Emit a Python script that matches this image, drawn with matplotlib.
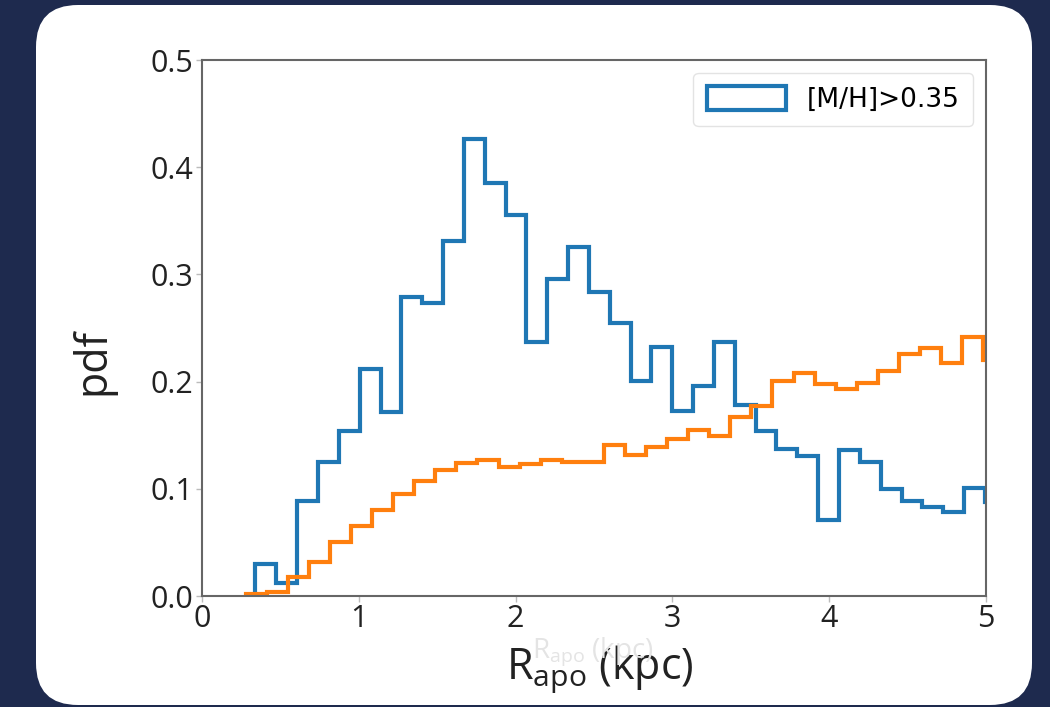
import numpy as np
import matplotlib
matplotlib.use("Agg")
import matplotlib.pyplot as plt
from matplotlib.patches import FancyBboxPatch

# bin layout (kpc)
blue_start, blue_width = 0.341, 0.1329
orange_start, orange_width = 0.278, 0.1344

blue_vals = [0.030, 0.012, 0.089, 0.125, 0.154, 0.212, 0.172, 0.279, 0.273, 0.331,
             0.426, 0.385, 0.355, 0.237, 0.296, 0.326, 0.284, 0.255, 0.201, 0.232,
             0.173, 0.196, 0.237, 0.178, 0.154, 0.137, 0.131, 0.071, 0.136, 0.125,
             0.100, 0.089, 0.083, 0.078, 0.101, 0.088]
orange_vals = [0.002, 0.004, 0.018, 0.032, 0.050, 0.065, 0.080, 0.095, 0.107, 0.118,
               0.124, 0.127, 0.120, 0.123, 0.127, 0.125, 0.125, 0.141, 0.132, 0.139,
               0.146, 0.155, 0.149, 0.167, 0.177, 0.201, 0.208, 0.198, 0.193, 0.199,
               0.210, 0.226, 0.231, 0.217, 0.242, 0.220]

legend_label = "[M/H]>0.35"
xticks = [0, 1, 2, 3, 4, 5]
yticks = [0.0, 0.1, 0.2, 0.3, 0.4, 0.5]

blue_edges = blue_start + blue_width * np.arange(len(blue_vals) + 1)
orange_edges = orange_start + orange_width * np.arange(len(orange_vals) + 1)

fig = plt.figure(figsize=(10.5, 7.07), dpi=100)
fig.patch.set_facecolor("#1e2a4e")

# white rounded card behind the plot
card = FancyBboxPatch((0.36, 0.02), 9.96, 7.0,
                      boxstyle="round,pad=0,rounding_size=0.42",
                      transform=fig.dpi_scale_trans, facecolor="white",
                      edgecolor="none", zorder=-5)
fig.patches.append(card)

ax = fig.add_axes([0.1924, 0.157, 0.7467, 0.7581])
ax.set_facecolor("white")

ax.hist(blue_edges[:-1], bins=blue_edges, weights=blue_vals, histtype="step",
        color="#1f77b4", linewidth=3, label=legend_label)
ax.hist(orange_edges[:-1], bins=orange_edges, weights=orange_vals, histtype="step",
        color="#ff7f0e", linewidth=3)

ax.set_xlim(0, 5)
ax.set_ylim(0, 0.5)
ax.set_xticks(xticks)
ax.set_yticks(yticks)
ax.set_xticklabels([str(t) for t in xticks])
ax.set_yticklabels([f"{t:.1f}" for t in yticks])

for lab in ax.get_xticklabels() + ax.get_yticklabels():
    lab.set_fontfamily("Open Sans")
    lab.set_fontsize(22)
    lab.set_color("#222222")
ax.tick_params(length=4, width=1, color="#bbbbbb", pad=2)

for sp in ax.spines.values():
    sp.set_color("#666666")
    sp.set_linewidth(1.5)

# faint leftover label behind the main one
fig.text(0.565, 0.078, r"$\mathregular{R_{apo}}$ (kpc)", fontsize=20,
         family="Open Sans", color="#e4e4e4", ha="center", va="center", zorder=1)

ax.set_xlabel(r"$\mathregular{R_{apo}}$ (kpc)", fontsize=31, family="Open Sans",
              color="#222222")
ax.xaxis.set_label_coords(0.508, -0.137, transform=ax.transAxes)
ax.xaxis.label.set_va("center")
ax.set_ylabel("pdf", fontsize=31, family="Open Sans", color="#222222")
ax.yaxis.set_label_coords(-0.139, 0.437)
ax.yaxis.label.set_va("center")

leg = ax.legend(loc="upper right", fontsize=19, handlelength=3.0, handleheight=1.0,
                borderpad=0.5, frameon=True)
leg.get_frame().set_edgecolor("#dddddd")

fig.savefig("out.png", dpi=100, facecolor=fig.get_facecolor())
